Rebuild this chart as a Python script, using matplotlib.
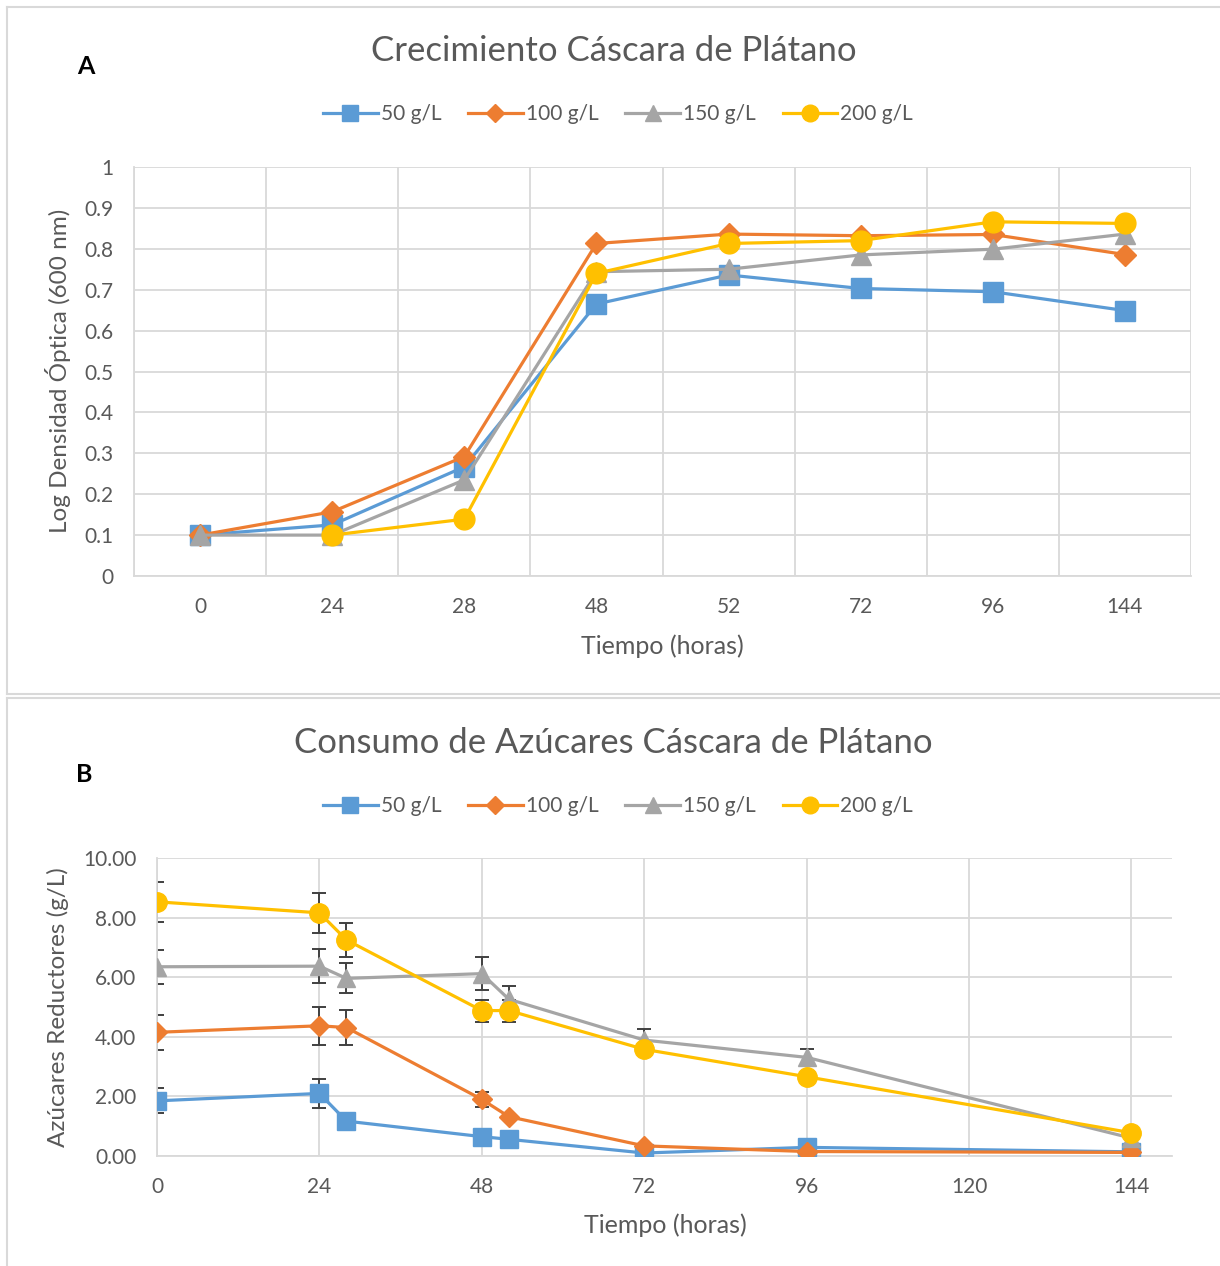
import matplotlib
import matplotlib.pyplot as plt
import numpy as np
from matplotlib.lines import Line2D

matplotlib.use("Agg")

plt.rcParams["font.family"] = ["Lato", "DejaVu Sans"]

# ---- data ----
series_names = ["50 g/L", "100 g/L", "150 g/L", "200 g/L"]
colors = ["#5B9BD5", "#ED7D31", "#A5A5A5", "#FFC000"]
markers = ["s", "D", "^", "o"]
marker_sizes = [14, 11, 14, 15]

# Panel A: growth (categorical time axis)
growth_times = ["0", "24", "28", "48", "52", "72", "96", "144"]
growth_50 = [0.10, 0.125, 0.267, 0.665, 0.736, 0.703, 0.695, 0.649]
growth_100 = [0.10, 0.157, 0.292, 0.813, 0.836, 0.832, 0.835, 0.786]
growth_150 = [0.10, 0.10, 0.235, 0.744, 0.750, 0.785, 0.799, 0.836]
growth_200 = [np.nan, 0.10, 0.139, 0.740, 0.813, 0.820, 0.866, 0.862]
growth_yticks = [0, 0.1, 0.2, 0.3, 0.4, 0.5, 0.6, 0.7, 0.8, 0.9, 1]
growth_ylabels = ["0", "0.1", "0.2", "0.3", "0.4", "0.5", "0.6", "0.7",
                  "0.8", "0.9", "1"]

# Panel B: sugar consumption (numeric time axis)
sugar_hours = [0, 24, 28, 48, 52, 72, 96, 144]
sugar_50 = [1.85, 2.10, 1.17, 0.65, 0.56, 0.10, 0.29, 0.14]
sugar_100 = [4.15, 4.37, 4.31, 1.90, 1.32, 0.34, 0.15, 0.12]
sugar_150 = [6.35, 6.37, 5.96, 6.12, 5.26, 3.89, 3.31, 0.60]
sugar_200 = [8.53, 8.16, 7.25, 4.88, 4.88, 3.58, 2.66, 0.78]
sugar_err_50 = [0.42, 0.48, np.nan, np.nan, np.nan, np.nan, np.nan, np.nan]
sugar_err_100 = [0.58, 0.63, 0.60, 0.26, np.nan, np.nan, np.nan, np.nan]
sugar_err_150 = [0.57, 0.56, 0.50, 0.55, 0.44, 0.37, 0.28, np.nan]
sugar_err_200 = [0.67, 0.66, 0.57, 0.37, 0.37, np.nan, np.nan, np.nan]
sugar_xticks = [0, 24, 48, 72, 96, 120, 144]
sugar_yticks = [0, 2, 4, 6, 8, 10]

W, H = 1220, 1266
TXT = "#595959"
GRID = "#D9D9D9"


def fx(px):
    return px / W


def fy(py):
    return 1 - py / H


def style_axes(ax):
    for side in ["top", "right"]:
        ax.spines[side].set_visible(False)
    for side in ["left", "bottom"]:
        ax.spines[side].set_color(GRID)
        ax.spines[side].set_linewidth(1.3)
    ax.tick_params(length=0, labelsize=15, labelcolor=TXT, pad=15)
    ax.grid(True, color=GRID, linewidth=1.3)
    ax.set_axisbelow(True)


fig = plt.figure(figsize=(W / 100, H / 100), dpi=100)

# ---- panel A ----
axA = fig.add_axes([fx(134), fy(576), fx(1191 - 134), (576 - 167) / H])
style_axes(axA)
xpos = np.arange(len(growth_times))
growth_all = [growth_50, growth_100, growth_150, growth_200]
for vals, name, c, m, ms in zip(growth_all, series_names, colors, markers,
                                marker_sizes):
    axA.plot(xpos, vals, color=c, marker=m, markersize=ms, linewidth=2.3,
             label=name)
axA.set_xlim(-0.5, len(growth_times) - 0.5)
axA.set_ylim(0, 1)
axA.set_xticks(xpos)
axA.set_xticklabels(growth_times)
axA.set_xticks(np.arange(len(growth_times) + 1) - 0.5, minor=True)
axA.tick_params(which="minor", length=0)
axA.xaxis.grid(False, which="major")
axA.xaxis.grid(True, which="minor", color=GRID, linewidth=1.3)
axA.set_yticks(growth_yticks)
axA.set_yticklabels(growth_ylabels)

# ---- panel B ----
axB = fig.add_axes([fx(157), fy(1156), fx(1172 - 157), (1156 - 858) / H])
style_axes(axB)
sugar_all = [sugar_50, sugar_100, sugar_150, sugar_200]
sugar_errs = [sugar_err_50, sugar_err_100, sugar_err_150, sugar_err_200]
for vals, errs in zip(sugar_all, sugar_errs):
    axB.errorbar(sugar_hours, vals, yerr=errs, fmt="none", ecolor="#404040",
                 elinewidth=1.4, capsize=5, capthick=1.4, zorder=2)
for vals, name, c, m, ms in zip(sugar_all, series_names, colors, markers,
                                marker_sizes):
    axB.plot(sugar_hours, vals, color=c, marker=m, markersize=ms - 1,
             linewidth=2.3, label=name, zorder=3)
axB.set_xlim(0, 150)
axB.set_ylim(0, 10)
axB.set_xticks(sugar_xticks)
axB.set_yticks(sugar_yticks)
axB.set_yticklabels([f"{v:.2f}" for v in sugar_yticks])

# ---- texts ----
fig.text(0.503, fy(51), "Crecimiento Cáscara de Plátano", ha="center",
         va="center", fontsize=25, color=TXT)
fig.text(0.503, fy(743), "Consumo de Azúcares Cáscara de Plátano",
         ha="center", va="center", fontsize=25, color=TXT)
fig.text(fx(86), fy(67), "A", ha="center", va="center", fontsize=18,
         fontweight="bold", color="black")
fig.text(fx(84), fy(775), "B", ha="center", va="center", fontsize=18,
         fontweight="bold", color="black")
fig.text(fx(58), fy(371), "Log Densidad Óptica (600 nm)", rotation=90,
         ha="center", va="center", fontsize=17.5, color=TXT)
fig.text(fx(58), fy(1007), "Azúcares Reductores (g/L)", rotation=90,
         ha="center", va="center", fontsize=17.5, color=TXT)
fig.text(fx(662), fy(646), "Tiempo (horas)", ha="center", va="center",
         fontsize=18, color=TXT)
fig.text(fx(665), fy(1225), "Tiempo (horas)", ha="center", va="center",
         fontsize=18, color=TXT)

# legends
handles = [
    Line2D([0], [0], color=c, marker=m, markersize=ms * 0.8, linewidth=2.3)
    for c, m, ms in zip(colors, markers, marker_sizes)
]
for ly in [114, 806]:
    leg = fig.legend(handles, series_names, loc="center",
                     bbox_to_anchor=(fx(618), fy(ly)), ncol=4, frameon=False,
                     fontsize=15, handlelength=2.6, handletextpad=0.15,
                     columnspacing=1.3, labelcolor=TXT)

# panel borders
border = dict(color=GRID, linewidth=1.5, transform=fig.transFigure)
fig.add_artist(Line2D([fx(7), fx(7)], [fy(7), fy(694)], **border))
fig.add_artist(Line2D([fx(7), 1], [fy(7), fy(7)], **border))
fig.add_artist(Line2D([fx(7), 1], [fy(694), fy(694)], **border))
fig.add_artist(Line2D([fx(7), 1], [fy(698), fy(698)], **border))
fig.add_artist(Line2D([fx(7), fx(7)], [fy(698), 0], **border))

fig.savefig("out.png", dpi=100)
